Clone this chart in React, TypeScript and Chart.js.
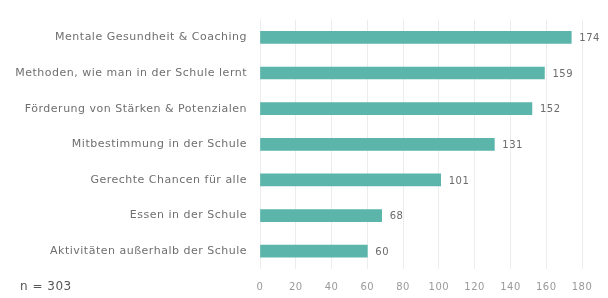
import React, { useEffect, useRef } from "react";
import { Chart, registerables } from "chart.js";

Chart.register(...registerables);

const categories = [
  "Mentale Gesundheit & Coaching",
  "Methoden, wie man in der Schule lernt",
  "Förderung von Stärken & Potenzialen",
  "Mitbestimmung in der Schule",
  "Gerechte Chancen für alle",
  "Essen in der Schule",
  "Aktivitäten außerhalb der Schule",
];
const values = [174, 159, 152, 131, 101, 68, 60];
const sampleNote = "n = 303";
const FONT = "'DejaVu Sans', sans-serif";

const spacing = {
  id: "spacing",
  beforeDraw(chart: any) {
    (chart.ctx as any).letterSpacing = "0.5px";
  },
};

const valueLabels = {
  id: "valueLabels",
  afterDatasetsDraw(chart: any) {
    const ctx = chart.ctx;
    const meta = chart.getDatasetMeta(0);
    ctx.save();
    ctx.font = `10px ${FONT}`;
    ctx.fillStyle = "#6b6b6b";
    ctx.textAlign = "left";
    ctx.textBaseline = "middle";
    meta.data.forEach((bar: any, i: number) => {
      ctx.fillText(String(values[i]), bar.x + 8, bar.y + 1);
    });
    ctx.restore();
  },
};

const noteLabel = {
  id: "noteLabel",
  afterDraw(chart: any) {
    const ctx = chart.ctx;
    ctx.save();
    ctx.font = `12px ${FONT}`;
    ctx.fillStyle = "#555";
    ctx.textAlign = "left";
    ctx.textBaseline = "middle";
    ctx.fillText(sampleNote, 20, 287);
    ctx.restore();
  },
};

export default function App() {
  const ref = useRef<HTMLCanvasElement>(null);
  useEffect(() => {
    const chart = new Chart(ref.current!, {
      type: "bar",
      data: {
        labels: categories,
        datasets: [
          {
            data: values,
            backgroundColor: "#5bb5aa",
            barThickness: 12,
          },
        ],
      },
      options: {
        indexAxis: "y",
        animation: false,
        responsive: false,
        maintainAspectRatio: false,
        layout: { padding: { left: 0, right: 26, top: 15, bottom: 0 } },
        plugins: { legend: { display: false }, tooltip: { enabled: false } },
        scales: {
          x: {
            min: 0,
            max: 180,
            ticks: { stepSize: 20, color: "#9a9a9a", font: { family: FONT, size: 10 }, padding: 12 },
            grid: { color: "#ececec", drawTicks: false },
            border: { display: false },
            afterFit: (s: any) => { s.height = 29; },
          },
          y: {
            ticks: { color: "#6f6f6f", font: { family: FONT, size: 11 }, padding: 13 },
            grid: { display: false, drawTicks: false },
            border: { display: false },
            afterFit: (s: any) => { s.width = 260; },
          },
        },
      },
      plugins: [spacing, valueLabels, noteLabel],
    });
    return () => chart.destroy();
  }, []);
  return (
    <div style={{ position: "absolute", left: 0, top: 0, width: 608, height: 298, background: "#fff" }}>
      <canvas ref={ref} width={608} height={298} />
    </div>
  );
}
